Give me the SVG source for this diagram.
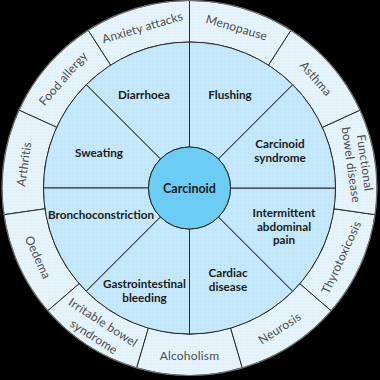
<svg xmlns="http://www.w3.org/2000/svg" width="380" height="380" viewBox="0 0 380 380">
<defs>
<pattern id="pOuter" width="3" height="3" patternUnits="userSpaceOnUse"><rect width="3" height="3" fill="#e6f4fb"/><circle cx="1" cy="1" r="0.45" fill="#c3dbe7"/></pattern>
<pattern id="pInner" width="4" height="4" patternUnits="userSpaceOnUse"><rect width="4" height="4" fill="#c5e8fa"/><circle cx="1" cy="1" r="0.5" fill="#abd6ee"/></pattern>
</defs>
<style>
.inner{fill:url(#pInner);stroke:#2a2a2a;stroke-width:1}
.outer{fill:url(#pOuter);stroke:#2a2a2a;stroke-width:1}
.lbl{font-family:Lato,"Open Sans","DejaVu Sans",sans-serif;font-weight:700;font-size:11.7px;fill:#1a1a1a;text-anchor:middle}
.olbl{font-family:Lato,"Open Sans","DejaVu Sans",sans-serif;font-weight:400;font-size:12px;letter-spacing:0.2px;fill:#4d4d4d;text-anchor:middle}
</style>
<rect width="380" height="380" fill="#000"/>

<g id="outer-ring">
<g id="anxiety"><path class="outer" d="M189.5,0.5 A187.5,187.5 0 0 0 88.13,30.27 L110.57,65.18 A146,146 0 0 1 189.5,42 Z"/><text class="olbl" transform="translate(142.45 27.77) rotate(-16.36)" y="4">Anxiety attacks</text></g>
<g id="food-allergy"><path class="outer" d="M88.13,30.27 A187.5,187.5 0 0 0 18.94,110.11 L56.69,127.35 A146,146 0 0 1 110.57,65.18 Z"/><text class="olbl" transform="translate(63.29 78.64) rotate(-49.09)" y="4">Food allergy</text></g>
<g id="arthritis"><path class="outer" d="M18.94,110.11 A187.5,187.5 0 0 0 3.91,214.68 L44.99,208.78 A146,146 0 0 1 56.69,127.35 Z"/><text class="olbl" transform="translate(24.2 164.23) rotate(-81.82)" y="4">Arthritis</text></g>
<g id="oedema"><path class="outer" d="M3.91,214.68 A187.5,187.5 0 0 0 47.8,310.79 L79.16,283.61 A146,146 0 0 1 44.99,208.78 Z"/><text class="olbl" transform="translate(37.59 257.38) rotate(65.45)" y="4">Oedema</text></g>
<g id="irritable-bowel"><path class="outer" d="M47.8,310.79 A187.5,187.5 0 0 0 136.68,367.9 L148.37,328.09 A146,146 0 0 1 79.16,283.61 Z"/><text class="olbl" transform="translate(98.4 329.75) rotate(32.73)"><tspan x="0" y="-4.5">Irritable bowel</tspan><tspan x="0" y="12.5">syndrome</tspan></text></g>
<g id="alcoholism"><path class="outer" d="M136.68,367.9 A187.5,187.5 0 0 0 242.32,367.9 L230.63,328.09 A146,146 0 0 1 148.37,328.09 Z"/><text class="olbl" x="189.5" y="359.5">Alcoholism</text></g>
<g id="neurosis"><path class="outer" d="M242.32,367.9 A187.5,187.5 0 0 0 331.2,310.79 L299.84,283.61 A146,146 0 0 1 230.63,328.09 Z"/><text class="olbl" transform="translate(279.79 328.49) rotate(-32.73)" y="4">Neurosis</text></g>
<g id="thyrotoxicosis"><path class="outer" d="M331.2,310.79 A187.5,187.5 0 0 0 375.09,214.68 L334.01,208.78 A146,146 0 0 1 299.84,283.61 Z"/><text class="olbl" transform="translate(341.41 257.38) rotate(-65.45)" y="4">Thyrotoxicosis</text></g>
<g id="functional-bowel"><path class="outer" d="M375.09,214.68 A187.5,187.5 0 0 0 360.06,110.11 L322.31,127.35 A146,146 0 0 1 334.01,208.78 Z"/><text class="olbl" transform="translate(357.77 163.81) rotate(81.82)"><tspan x="0" y="-3">Functional</tspan><tspan x="0" y="11">bowel disease</tspan></text></g>
<g id="asthma"><path class="outer" d="M360.06,110.11 A187.5,187.5 0 0 0 290.87,30.27 L268.43,65.18 A146,146 0 0 1 322.31,127.35 Z"/><text class="olbl" transform="translate(315.71 78.64) rotate(49.09)" y="4">Asthma</text></g>
<g id="menopause"><path class="outer" d="M290.87,30.27 A187.5,187.5 0 0 0 189.5,0.5 L189.5,42 A146,146 0 0 1 268.43,65.18 Z"/><text class="olbl" transform="translate(236.55 27.77) rotate(16.36)" y="4">Menopause</text></g>
<circle cx="189.5" cy="188" r="187.5" fill="none" stroke="#6f6f6f" stroke-width="1.2"/>
</g>

<g id="inner-ring">
<g id="flushing"><path class="inner" d="M292.74,84.76 A146,146 0 0 0 189.5,42 L189.5,147 A41,41 0 0 1 218.49,159.01 Z"/><text class="lbl" x="230" y="99">Flushing</text></g>
<g id="diarrhoea"><path class="inner" d="M189.5,42 A146,146 0 0 0 86.26,84.76 L160.51,159.01 A41,41 0 0 1 189.5,147 Z"/><text class="lbl" x="144" y="99">Diarrhoea</text></g>
<g id="sweating"><path class="inner" d="M86.26,84.76 A146,146 0 0 0 43.5,188 L148.5,188 A41,41 0 0 1 160.51,159.01 Z"/><text class="lbl" x="99" y="157">Sweating</text></g>
<g id="bronchoconstriction"><path class="inner" d="M43.5,188 A146,146 0 0 0 86.26,291.24 L160.51,216.99 A41,41 0 0 1 148.5,188 Z"/><text class="lbl" x="101" y="219">Bronchoconstriction</text></g>
<g id="gi-bleeding"><path class="inner" d="M86.26,291.24 A146,146 0 0 0 189.5,334 L189.5,229 A41,41 0 0 1 160.51,216.99 Z"/><text class="lbl" x="144.5" y="288">Gastrointestinal</text><text class="lbl" x="144.5" y="301.5">bleeding</text></g>
<g id="cardiac-disease"><path class="inner" d="M189.5,334 A146,146 0 0 0 292.74,291.24 L218.49,216.99 A41,41 0 0 1 189.5,229 Z"/><text class="lbl" x="228" y="277">Cardiac</text><text class="lbl" x="228" y="291">disease</text></g>
<g id="abdominal-pain"><path class="inner" d="M292.74,291.24 A146,146 0 0 0 335.5,188 L230.5,188 A41,41 0 0 1 218.49,216.99 Z"/><text class="lbl" x="284" y="217">Intermittent</text><text class="lbl" x="284" y="230.5">abdominal</text><text class="lbl" x="284" y="244">pain</text></g>
<g id="carcinoid-syndrome"><path class="inner" d="M335.5,188 A146,146 0 0 0 292.74,84.76 L218.49,159.01 A41,41 0 0 1 230.5,188 Z"/><text class="lbl" x="280" y="148">Carcinoid</text><text class="lbl" x="280" y="161.5">syndrome</text></g>
</g>

<g id="carcinoid">
<circle cx="189.5" cy="188" r="41" fill="#6bcdf3" stroke="#2a2a2a" stroke-width="1"/>
<text class="lbl" x="189.5" y="192.5" style="font-size:12.5px">Carcinoid</text>
</g>
</svg>
